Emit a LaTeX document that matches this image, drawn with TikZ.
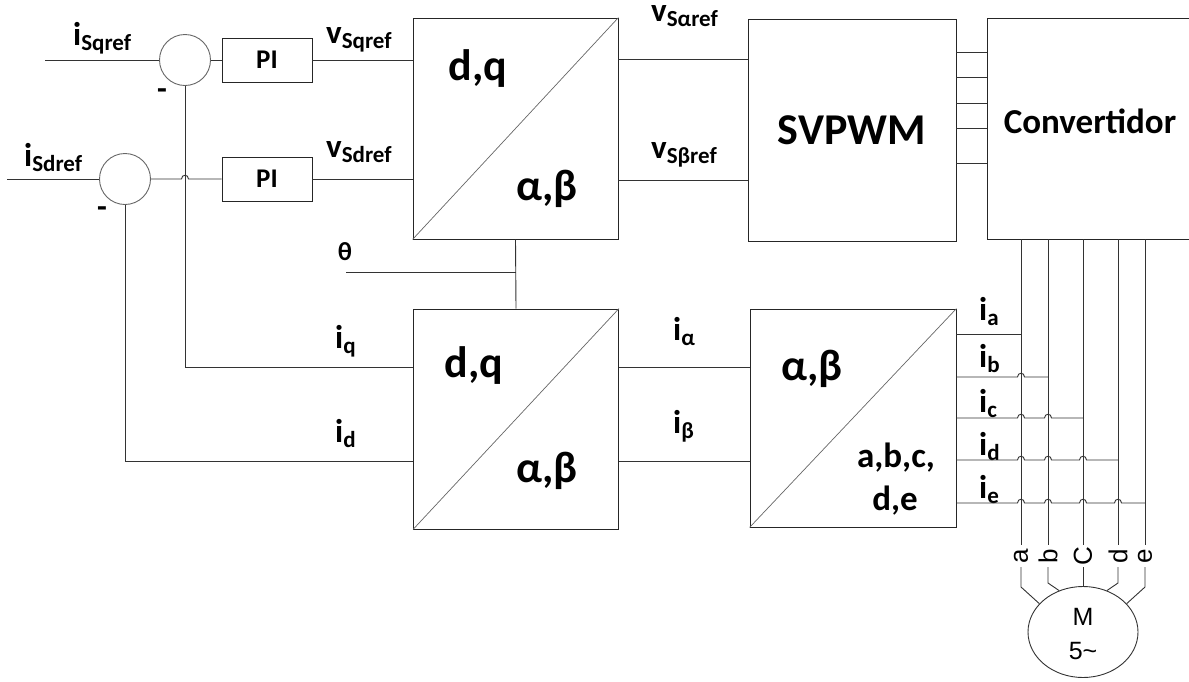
\documentclass[tikz,border=0pt]{standalone}
\usepackage{fontspec}
\setmainfont{Carlito}
\newfontfamily\arialf{Liberation Sans}
\usetikzlibrary{shapes.geometric,calc}
\newcommand\Lab[2]{{\fontsize{33}{33}\selectfont #1}\raisebox{-5pt}{\fontsize{23}{23}\selectfont #2}}
\newcommand\hopat[2]{-- ({#1-3.5},#2) .. controls ({#1-3.5},{#2-5}) and ({#1+3.5},{#2-5}) .. ({#1+3.5},#2)}
\begin{document}
\begin{tikzpicture}[x=1pt,y=-1pt,
  every node/.style={font=\bfseries},
  wire/.style={draw=black!80, line width=0.9pt},
  blk/.style={draw=black!85, line width=0.9pt, inner sep=0pt, rectangle},
  diag/.style={draw=black!60, line width=0.7pt},
  sumc/.style={draw=black!60, circle, minimum size=51pt, inner sep=0pt, line width=0.9pt},
  lbl/.style={anchor=base west, inner sep=0pt},
  big/.style={anchor=base, inner sep=0pt, font=\bfseries\fontsize{44}{44}\selectfont},
  mid/.style={anchor=base, inner sep=0pt, font=\bfseries\fontsize{35}{35}\selectfont},
  mlet/.style={rotate=90, inner sep=0pt, font=\arialf\fontsize{26}{26}\selectfont}]
\useasboundingbox (0,0) rectangle (1189,681);
\clip (0,0) rectangle (1189,681);

% blocks
\node[sumc] (c1) at (185,60) {};
\node[sumc] (c2) at (125,179) {};
\node[blk, minimum width=90pt, minimum height=44pt, font=\bfseries\fontsize{27}{27}\selectfont] (pi1) at (267,60) {PI};
\node[blk, minimum width=90pt, minimum height=44pt, font=\bfseries\fontsize{27}{27}\selectfont] (pi2) at (267,179) {PI};
\node[blk, minimum width=205pt, minimum height=221pt] (dq1) at (515.5,128.5) {};
\node[blk, minimum width=205pt, minimum height=220pt] (dq2) at (516,419) {};
\node[blk, minimum width=208pt, minimum height=222pt, font=\bfseries\fontsize{44}{44}\selectfont] (svp) at (852,130) {SVPWM};
\node[blk, minimum width=208pt, minimum height=221pt] (conv) at (1091,128.5) {};
\node[anchor=base, inner sep=0pt, font=\bfseries\fontsize{35}{35}\selectfont] (convt) at (1090,133) {Convertidor};
\node[blk, minimum width=206pt, minimum height=218pt] (abc) at (853,418) {};
\draw[diag] (dq1.south west) -- (dq1.north east);
\draw[diag] (dq2.south west) -- (dq2.north east);
\draw[diag] (abc.south west) -- (abc.north east);

% block texts
\node[big] (t1) at (478,80) {d,q};
\node[big] (t2) at (547,200) {α,β};
\node[big] (t3) at (474,377) {d,q};
\node[big] (t4) at (547,482) {α,β};
\node[big] (t5) at (812,380) {α,β};
\node[mid] (t6) at (896,467) {a,b,c,};
\node[mid] (t7) at (895,510) {d,e};

% signal labels
\node[lbl] (l1) at (73,45) {\Lab{i}{Sqref}};
\node[lbl] (l2) at (24,166) {\Lab{i}{Sdref}};
\node[lbl] (l3) at (326,43) {\Lab{v}{Sqref}};
\node[lbl] (l4) at (326,157) {\Lab{v}{Sdref}};
\node[lbl] (l5) at (651,21) {\Lab{v}{Sαref}};
\node[lbl] (l6) at (651,158) {\Lab{v}{Sβref}};
\node[lbl] (l7) at (335,348) {\Lab{i}{q}};
\node[lbl] (l8) at (335,442) {\Lab{i}{d}};
\node[lbl] (l9) at (673,340) {\Lab{i}{α}};
\node[lbl] (l10) at (673,433) {\Lab{i}{β}};
\node[lbl] (l11) at (979,320) {\Lab{i}{a}};
\node[lbl] (l12) at (979,367) {\Lab{i}{b}};
\node[lbl] (l13) at (979,412) {\Lab{i}{c}};
\node[lbl] (l14) at (979,455) {\Lab{i}{d}};
\node[lbl] (l15) at (979,498) {\Lab{i}{e}};
\node[inner sep=0pt, font=\bfseries\fontsize{26}{26}\selectfont] (th) at (345,252) {θ};
\node[inner sep=0pt, font=\bfseries\fontsize{32}{32}\selectfont] (m1) at (162,94) {-};
\node[inner sep=0pt, font=\bfseries\fontsize{32}{32}\selectfont] (m2) at (102,212) {-};

% coordinates
\coordinate (inq) at (45,60);
\coordinate (ind) at (7,179);
\coordinate (fq) at (185,367);
\coordinate (fd) at (125,461);
\coordinate (tha) at (346,272);
\coordinate (ya) at (0,59);
\coordinate (yb) at (0,180);

% connectors left
\draw[wire] (inq) -- (c1.west);
\draw[wire] (ind) -- (c2.west);
\draw[wire] (c1.east) -- (pi1.west);
\draw[wire] (c2.east) \hopat{185}{179} -- (pi2.west);
\draw[wire] (pi1.east) -- (pi1.east -| dq1.west);
\draw[wire] (pi2.east) -- (pi2.east -| dq1.west);
\draw[wire] (c1.south) -- (fq) -- (fq -| dq2.west);
\draw[wire] (c2.south) -- (fd) -- (fd -| dq2.west);
\draw[wire] (dq1.south) -- (dq2.north);
\draw[wire] (tha) -- (tha -| dq1.south);
\draw[wire] (dq1.east |- ya) -- (svp.west |- ya);
\draw[wire] (dq1.east |- yb) -- (svp.west |- yb);
\draw[wire] (dq2.east |- fq) -- (abc.west |- fq);
\draw[wire] (dq2.east |- fd) -- (abc.west |- fd);
\foreach \y in {52,77,103,128,163} \draw[wire] (svp.east |- 0,\y) -- (conv.west |- 0,\y);

% bus
\foreach \x in {1021,1048,1083,1118,1145} \draw[wire] (\x,239) -- (\x,545);
\draw[wire] (956,334) -- (1021,334);
\draw[wire] (956,377) \hopat{1021}{377} -- (1048,377);
\draw[wire] (956,418) \hopat{1021}{418} \hopat{1048}{418} -- (1083,418);
\draw[wire] (956,460) \hopat{1021}{460} \hopat{1048}{460} \hopat{1083}{460} -- (1118,460);
\draw[wire] (956,503) \hopat{1021}{503} \hopat{1048}{503} \hopat{1083}{503} \hopat{1118}{503} -- (1145,503);

% motor
\node[ellipse, draw=black!80, line width=0.9pt, minimum width=110pt, minimum height=91pt, inner sep=0pt] (mot) at (1083,632) {};
\node[inner sep=0pt, font=\arialf\fontsize{25}{25}\selectfont] (mM) at (1083,617) {M};
\node[inner sep=0pt, font=\arialf\fontsize{25}{25}\selectfont] (m5) at (1083,651) {5\textasciitilde};
\node[mlet] (pa) at (1021,556) {a};
\node[mlet] (pb) at (1048,556) {b};
\node[mlet] (pc) at (1083,556) {C};
\node[mlet] (pd) at (1118,556) {d};
\node[mlet] (pe) at (1145,556) {e};
\draw[wire] (1021,567) -- (1021,587) -- (mot.147);
\draw[wire] (1048,567) -- (1048,583) -- (mot.120);
\draw[wire] (1083,567) -- (mot.90);
\draw[wire] (1118,567) -- (1118,583) -- (mot.60);
\draw[wire] (1145,567) -- (1145,587) -- (mot.33);
\end{tikzpicture}
\end{document}
